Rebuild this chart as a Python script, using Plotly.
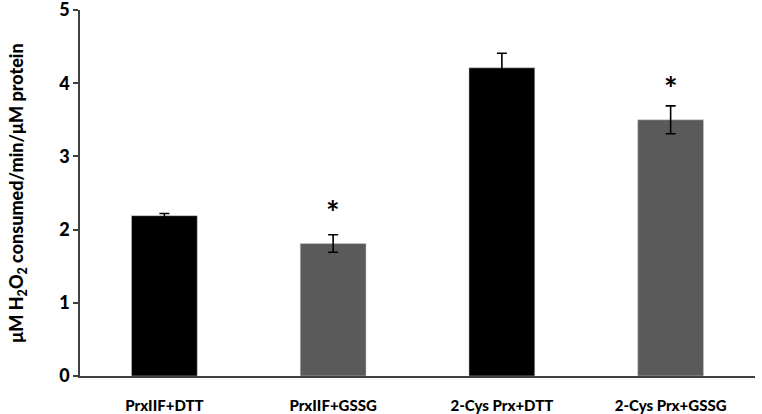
import plotly.graph_objects as go

# Bar data
categories = ['PrxIIF+DTT', 'PrxIIF+GSSG', '2-Cys Prx+DTT', '2-Cys Prx+GSSG']
rates = [2.19, 1.81, 4.21, 3.50]
errors = [0.03, 0.12, 0.20, 0.19]
colors = ['#000000', '#5a5a5a', '#000000', '#5a5a5a']
significant = [False, True, False, True]
star_y = [None, 2.23, None, 3.93]
y_ticks = [0, 1, 2, 3, 4, 5]

font = 'Lato'

fig = go.Figure()
fig.add_trace(go.Bar(
    x=categories,
    y=rates,
    width=0.39,
    marker=dict(color=colors, line=dict(color='#d0d0d0', width=0.5)),
    error_y=dict(type='data', array=errors, visible=True,
                 color='#000000', thickness=1.6, width=5),
    showlegend=False,
))

# asterisks for significance
for cat, sig, ys in zip(categories, significant, star_y):
    if sig:
        fig.add_annotation(x=cat, y=ys, text='<b>*</b>', showarrow=False,
                           font=dict(family=font, size=32, color='#000000'),
                           yanchor='middle')

fig.update_layout(
    width=762, height=414,
    margin=dict(l=80, r=7, t=10, b=38),
    plot_bgcolor='white', paper_bgcolor='white',
    font=dict(family=font, color='#000000'),
    bargap=0.61,
)
fig.update_xaxes(
    range=[-0.5, 3.5], automargin=False,
    showline=True, linecolor='#404040', linewidth=1.6,
    ticks='', showgrid=False,
    tickfont=dict(family=font, size=15, weight=900),
    ticklabelstandoff=15,
)
fig.update_yaxes(
    range=[0, 5.0001], tickvals=y_ticks, automargin=False,
    showline=True, linecolor='#404040', linewidth=1.6,
    ticks='outside', ticklen=5, tickwidth=1.6, tickcolor='#404040',
    ticklabeloverflow='allow',
    showgrid=False, zeroline=False,
    tickfont=dict(family=font, size=18, weight=900),
    title=dict(text='μM H<sub>2</sub>O<sub>2</sub> consumed/min/μM protein',
               font=dict(family=font, size=18, weight=900), standoff=31),
)

# drop the default 8px page margin so the figure sits at the window corner
fig.write_html('out.html', config={'displayModeBar': False},
               post_script="document.body.style.margin='0';")
